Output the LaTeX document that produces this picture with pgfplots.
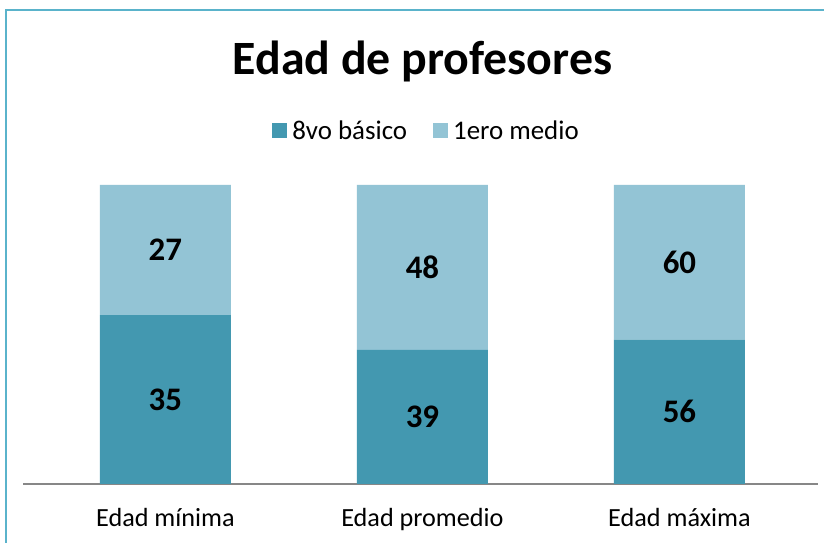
\documentclass[border=0pt]{standalone}
\usepackage{pgfplots}
\pgfplotsset{compat=1.18}
\usepackage{fontspec}
\setmainfont{Carlito}
\definecolor{darkbar}{HTML}{4398B0}
\definecolor{lightbar}{HTML}{93C4D5}
\definecolor{framecol}{HTML}{5AB3CB}
\definecolor{axisgray}{HTML}{878787}
\begin{document}
\begin{tikzpicture}[x=1bp,y=1bp]
\useasboundingbox (0,0) rectangle (824,543);
\path[fill=white] (0,0) rectangle (824,543);
\draw[framecol, line width=2bp] (6,0) -- (6,533) -- (830,533);
\begin{axis}[at={(23bp,59bp)}, anchor=south west, scale only axis,
  width=795bp, height=299bp,
  ybar stacked, bar width=131bp,
  xmin=-0.554, xmax=2.539, ymin=0, ymax=100,
  axis x line=bottom, axis y line=none,
  axis line style={-, draw=axisgray, line width=1.5bp},
  xtick={0,1,2}, xticklabels={Edad mínima, Edad promedio, Edad máxima},
  major tick length=0pt,
  xticklabel style={font=\fontsize{26.3}{31}\selectfont, yshift=-21bp},
  legend columns=2,
  legend style={at={(0.5,1)}, anchor=south, yshift=40bp, xshift=6bp, draw=none,
    font=\fontsize{27}{32}\selectfont,
    /tikz/every odd column/.append style={column sep=3bp},
    /tikz/every even column/.append style={column sep=24bp}},
  legend image code/.code={\fill[#1, draw=none] (0bp,-7.5bp) rectangle (15bp,7.5bp);},
]
\addplot[fill=darkbar, draw=none] coordinates {(0,56.45) (1,44.83) (2,48.28)};
\addplot[fill=lightbar, draw=none] coordinates {(0,43.55) (1,55.17) (2,51.72)};
\legend{8vo básico, 1ero medio}
\end{axis}
\begin{axis}[at={(23bp,59bp)}, anchor=south west, scale only axis,
  width=795bp, height=299bp,
  xmin=-0.554, xmax=2.539, ymin=0, ymax=100,
  hide axis]
\addplot[draw=none, nodes near coords, point meta=explicit symbolic,
  every node near coord/.style={anchor=center, font=\bfseries\fontsize{33}{38}\selectfont}]
  coordinates {(0,28.23)[35] (1,22.41)[39] (2,24.14)[56]
               (0,78.23)[27] (1,72.41)[48] (2,74.14)[60]};
\end{axis}
\node[font=\bfseries\fontsize{48}{54}\selectfont] at (422.5,482) {Edad de profesores};
\end{tikzpicture}
\end{document}
